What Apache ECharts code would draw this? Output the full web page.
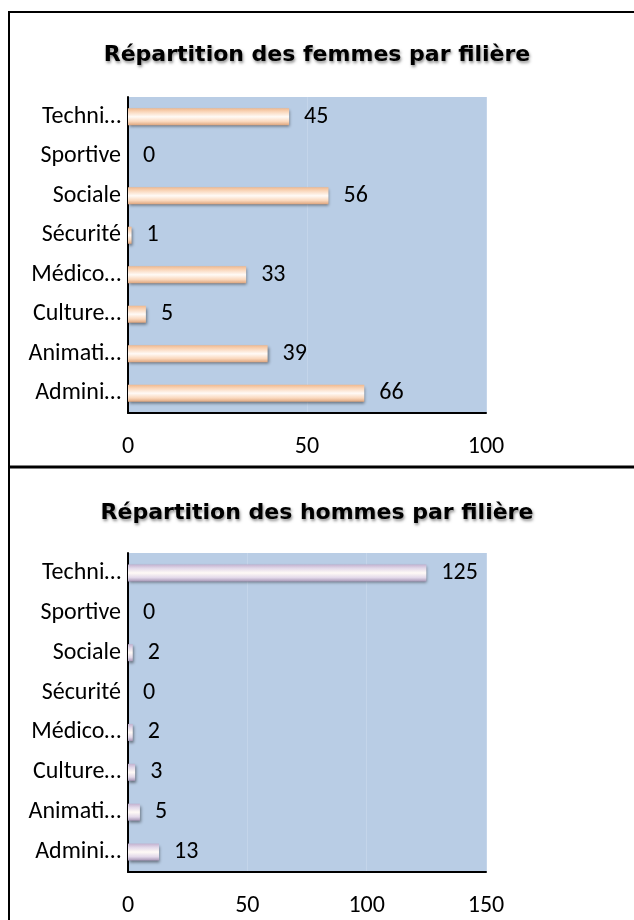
<!DOCTYPE html>
<html>
<head>
<meta charset="utf-8">
<script src="https://cdn.jsdelivr.net/npm/echarts@6/dist/echarts.min.js"></script>
<style>
  html, body { margin: 0; padding: 0; background: #fff; }
  #chart { width: 634px; height: 920px; }
</style>
</head>
<body>
<div id="chart"></div>
<script>
// categories, bottom to top
const categories = ['Admini…', 'Animati…', 'Culture…', 'Médico…', 'Sécurité', 'Sociale', 'Sportive', 'Techni…'];
const femmes = [66, 39, 5, 33, 1, 56, 0, 45];
const hommes = [13, 5, 3, 2, 0, 2, 0, 125];
const femmesTicks = { max: 100, interval: 50 };
const hommesTicks = { max: 150, interval: 50 };
const titles = ['Répartition des femmes par filière', 'Répartition des hommes par filière'];

const FONT = 'Carlito, Lato, sans-serif';

const chart = echarts.init(document.getElementById('chart'), null, { renderer: 'canvas' });

// bevelled bar look: edges tinted, centre almost white
const barFill = (edgeTop, mid, edgeBottom) => new echarts.graphic.LinearGradient(0, 0, 0, 1, [
  { offset: 0, color: edgeTop },
  { offset: 0.22, color: mid },
  { offset: 0.5, color: '#fffaf6' },
  { offset: 0.78, color: mid },
  { offset: 1, color: edgeBottom }
]);

const makeSeries = (data, idx, fill) => ({
  type: 'bar',
  xAxisIndex: idx,
  yAxisIndex: idx,
  data: data,
  barWidth: 17,
  itemStyle: {
    color: fill,
    shadowBlur: 3,
    shadowColor: 'rgba(0,0,0,0.45)',
    shadowOffsetX: 1,
    shadowOffsetY: 2
  },
  label: {
    show: true,
    position: 'right',
    distance: 15,
    color: '#000',
    fontFamily: FONT,
    fontSize: 24
  }
});

const valueAxis = (idx, ticks) => ({
  type: 'value',
  gridIndex: idx,
  min: 0,
  max: ticks.max,
  interval: ticks.interval,
  axisLine: { show: true, lineStyle: { color: '#000', width: 2 } },
  axisTick: { show: false },
  splitLine: { show: true, lineStyle: { color: '#c4d5ea', width: 1 } },
  axisLabel: { color: '#000', fontFamily: FONT, fontSize: 24, margin: 22 }
});

const catAxis = (idx) => ({
  type: 'category',
  gridIndex: idx,
  data: categories,
  axisLine: { show: true, lineStyle: { color: '#000', width: 2 } },
  axisTick: { show: false },
  axisLabel: { color: '#000', fontFamily: FONT, fontSize: 24, margin: 7 }
});

const titleStyle = {
  fontFamily: 'DejaVu Sans, sans-serif',
  fontWeight: 'bold',
  fontSize: 22,
  color: '#000',
  textShadowColor: 'rgba(0,0,0,0.45)',
  textShadowBlur: 3,
  textShadowOffsetX: 1,
  textShadowOffsetY: 2
};

const option = {
  animation: false,
  title: [
    { text: titles[0], left: 312, textAlign: 'center', top: 39, textStyle: titleStyle },
    { text: titles[1], left: 312, textAlign: 'center', top: 497, textStyle: titleStyle }
  ],
  grid: [
    { left: 128, right: 148, top: 97, height: 316, show: true, backgroundColor: '#b9cde5', borderWidth: 0 },
    { left: 128, right: 148, top: 553, height: 319, show: true, backgroundColor: '#b9cde5', borderWidth: 0 }
  ],
  xAxis: [valueAxis(0, femmesTicks), valueAxis(1, hommesTicks)],
  yAxis: [catAxis(0), catAxis(1)],
  series: [
    makeSeries(femmes, 0, barFill('#f0b98f', '#fad8bd', '#dea57d')),
    makeSeries(hommes, 1, barFill('#c2b1cf', '#e2d8e9', '#a897b7'))
  ],
  graphic: [
    {
      type: 'rect',
      shape: { x: 9, y: 12, width: 700, height: 1000 },
      style: { fill: null, stroke: '#000', lineWidth: 2 },
      silent: true
    },
    {
      type: 'line',
      shape: { x1: 9, y1: 467, x2: 634, y2: 467 },
      style: { stroke: '#000', lineWidth: 3 },
      silent: true
    }
  ]
};

chart.setOption(option);
</script>
</body>
</html>
